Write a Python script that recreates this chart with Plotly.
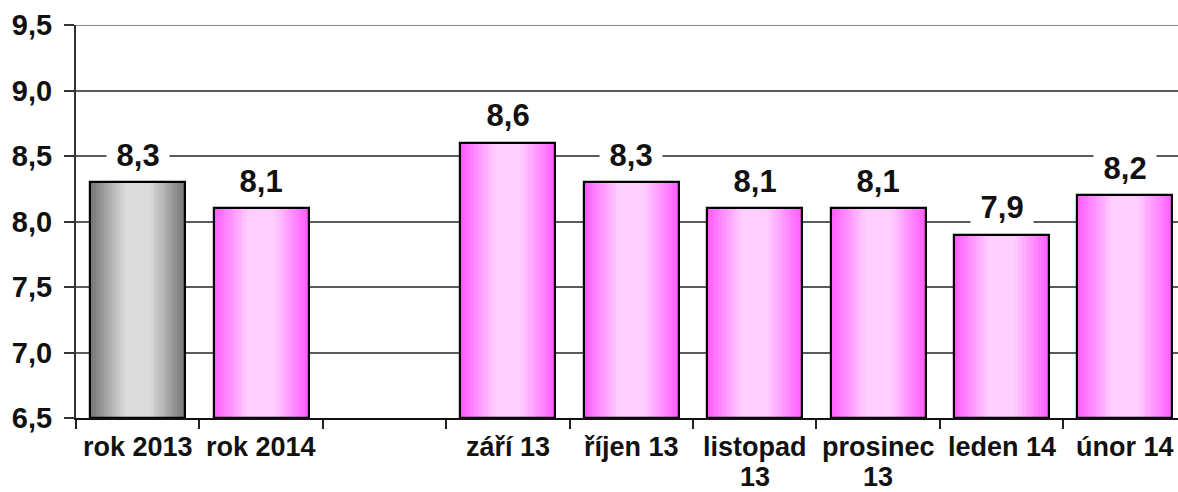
import plotly.graph_objects as go

categories = ["rok 2013", "rok 2014", " ", "září 13", "říjen 13", "listopad<br>13",
              "prosinec<br>13", "leden 14", "únor 14"]
values = [8.3, 8.1, None, 8.6, 8.3, 8.1, 8.1, 7.9, 8.2]
bar_kind = ["grey", "pink", None, "pink", "pink", "pink", "pink", "pink", "pink"]
y_ticks = [6.5, 7.0, 7.5, 8.0, 8.5, 9.0, 9.5]

FONT = "Liberation Sans, Arial, sans-serif"
BAR_W = 0.77
N_LAYERS = 18
Y_MIN, Y_MAX = 6.5, 9.5

palettes = {
    "grey": ((0x78, 0x78, 0x78), (0xdc, 0xdc, 0xdc)),
    "pink": ((0xff, 0x5e, 0xff), (0xff, 0xd0, 0xff)),
}

def mix(a, b, t):
    return "rgb(%d,%d,%d)" % tuple(round(a[i] + (b[i] - a[i]) * t) for i in range(3))

fig = go.Figure()
for kind, (edge, center) in palettes.items():
    xs = [c for c, k in zip(categories, bar_kind) if k == kind]
    ys = [v - Y_MIN for v, k in zip(values, bar_kind) if k == kind]
    for i in range(N_LAYERS):
        t = i / (N_LAYERS - 1)
        w = BAR_W * (1 - t * 0.97)
        fig.add_trace(go.Bar(
            x=xs, y=ys, width=w, base=Y_MIN,
            marker=dict(color=mix(edge, center, min(1, t * 1.35)), line=dict(width=0)),
            hoverinfo="skip", showlegend=False,
        ))
# outline layer
fig.add_trace(go.Bar(
    x=categories, y=[None if v is None else v - Y_MIN for v in values],
    width=BAR_W, base=Y_MIN,
    marker=dict(color="rgba(0,0,0,0)", line=dict(color="#000000", width=2.2)),
    showlegend=False,
))

# data labels (white box breaks the gridlines)
for c, v in zip(categories, values):
    if v is None:
        continue
    fig.add_annotation(
        x=c, y=v, text="\u00a0" + f"{v:.1f}".replace(".", ",") + "\u00a0", showarrow=False,
        yanchor="middle", yshift=27, bgcolor="white", borderpad=1,
        font=dict(family=FONT, size=31, color="#111111", weight="bold"),
    )

# category labels (one annotation per text line)
for c in categories:
    for j, line in enumerate(c.split("<br>")):
        if not line.strip():
            continue
        fig.add_annotation(
            x=c, y=Y_MIN, text=line, showarrow=False, yanchor="middle",
            yshift=-(29 + 30 * j), borderpad=0,
            font=dict(family=FONT, size=27, color="#111111", weight="bold"),
        )

fig.add_shape(type="line", xref="paper", yref="y", x0=0, x1=1, y0=Y_MAX, y1=Y_MAX,
              line=dict(color="#8a8a8a", width=2), layer="below")

fig.update_layout(
    width=1178, height=492,
    margin=dict(l=76, r=0, t=25, b=74),
    paper_bgcolor="white", plot_bgcolor="white",
    barmode="overlay", bargap=0,
    separators=", ",
    showlegend=False,
)
fig.update_xaxes(
    type="category", categoryorder="array", categoryarray=categories,
    range=[-0.5, 8.43], tickson="boundaries", ticks="outside", ticklen=9,
    tickwidth=1.5, tickcolor="#222222", showline=True, linecolor="#111111", linewidth=2,
    showgrid=False, showticklabels=False, automargin=False,
)
fig.update_yaxes(
    range=[Y_MIN, Y_MAX], tickvals=y_ticks, tickformat=".1f", ticks="outside", ticklen=10,
    tickwidth=1.5, tickcolor="#333333", showline=True, linecolor="#333333", linewidth=2,
    showgrid=True, gridcolor="#5a5a5a", gridwidth=2, zeroline=False,
    automargin=False, ticklabelstandoff=6,
    tickfont=dict(family=FONT, size=29, color="#111111", weight="bold"),
)

fig.write_html("out.html", config={"displayModeBar": False},
               post_script="document.body.style.margin='0';document.body.style.overflow='hidden';")
